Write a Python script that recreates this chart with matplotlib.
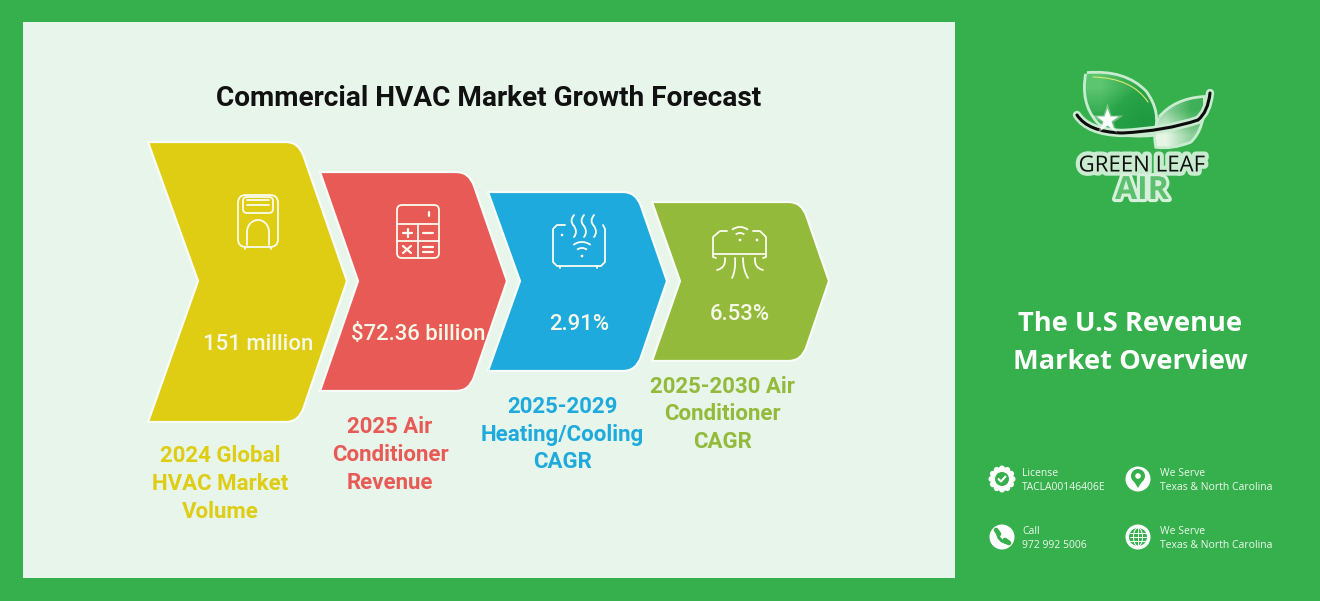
import math
import matplotlib
matplotlib.use('Agg')
import matplotlib.pyplot as plt
import matplotlib.patheffects as pe
import numpy as np
from matplotlib.colors import LinearSegmentedColormap
from matplotlib.patches import Rectangle, PathPatch, FancyBboxPatch, Circle, Arc, Polygon
from matplotlib.path import Path

title = 'Commercial HVAC Market Growth Forecast'
values = ['151 million', '$72.36 billion', '2.91%', '6.53%']
labels = ['2024 Global\nHVAC Market\nVolume', '2025 Air\nConditioner\nRevenue',
          '2025-2029\nHeating/Cooling\nCAGR', '2025-2030 Air\nConditioner\nCAGR']
colors = ['#dfcd14', '#e85a55', '#1eaadc', '#93ba3a']
side_title = 'The U.S Revenue\nMarket Overview'
contact_heads = ['License', 'We Serve', 'Call', 'We Serve']
contact_lines = ['TACLA00146406E', 'Texas & North Carolina', '972 992 5006', 'Texas & North Carolina']

GREEN = '#36b04c'
PANEL = '#e7f5eb'
WHITE = '#ffffff'
ICON = '#fbfbf0'

# layout, in pixels
left = [148, 320, 488, 652]
notch = [198, 358, 520, 680]
tip = [347, 507, 667, 829]
top = [142, 172, 192, 202]
bottom = [422, 391, 371, 361]
mid_y = 281
value_pos = [(258, 345), (418, 335), (579, 325), (740, 315)]
label_pos = [(220, 484), (390, 455), (562, 434.5), (722, 414.5)]
contact_pos = [(1002, 479), (1138, 479), (1002, 537), (1138, 537)]
contact_text_x = [1022, 1160, 1022, 1160]

fig = plt.figure(figsize=(13.2, 6.01), dpi=100, facecolor=GREEN)
ax = fig.add_axes([0, 0, 1, 1])
ax.set_xlim(0, 1320)
ax.set_ylim(601, 0)
ax.axis('off')

ax.add_patch(Rectangle((23, 22), 932, 556, fc=PANEL, ec='none'))
ax.text(489, 99, title, family='Roboto', weight='bold', fontsize=20.2, color='#111111',
        ha='center', va='center')


def chevron(i):
    t, b = top[i], bottom[i]
    shoulder = tip[i] - 0.345 * (b - t) / 2
    r = 13
    dx = 14 * 0.345
    dy = 14
    verts = [(left[i], t), (shoulder - r, t), (shoulder, t), (shoulder + dx, t + dy),
             (tip[i], mid_y), (shoulder + dx, b - dy), (shoulder, b), (shoulder - r, b),
             (left[i], b), (notch[i], mid_y), (left[i], t)]
    codes = [Path.MOVETO, Path.LINETO, Path.CURVE3, Path.CURVE3, Path.LINETO, Path.LINETO,
             Path.CURVE3, Path.CURVE3, Path.LINETO, Path.LINETO, Path.CLOSEPOLY]
    ax.add_patch(PathPatch(Path(verts, codes), fc=colors[i], ec='#f8fcf9', lw=1.6, joinstyle='miter'))


for i in range(4):
    chevron(i)
    ax.text(*value_pos[i], values[i], family='Roboto', weight='medium', fontsize=15.9,
            color='#f6f8e8', ha='center', va='center')
    ax.text(*label_pos[i], labels[i], family='Roboto', weight='bold', fontsize=16,
            color=colors[i], ha='center', va='center', linespacing=1.35)


def outline(x, y, w, h, r=4, lw=1.3):
    ax.add_patch(FancyBboxPatch((x + r, y + r), w - 2 * r, h - 2 * r,
                                boxstyle=f'round,pad={r},rounding_size={r}',
                                fc='none', ec=ICON, lw=lw))


def line(xs, ys, lw=1.3, color=ICON):
    ax.plot(xs, ys, color=color, lw=lw, solid_capstyle='round', solid_joinstyle='round')


def curve(p0, p1, p2, lw=1.3, color=ICON, zorder=2):
    ax.add_patch(PathPatch(Path([p0, p1, p2], [Path.MOVETO, Path.CURVE3, Path.CURVE3]),
                           fc='none', ec=color, lw=lw, capstyle='round', zorder=zorder))


def dot(x, y, r=1.3, color=ICON):
    ax.add_patch(Circle((x, y), r, fc=color, ec='none'))


def wifi(cx, cy, radii):
    for r in radii:
        ax.add_patch(Arc((cx, cy), 2 * r, 2 * r, theta1=232, theta2=308, ec=ICON, lw=1.3))
    dot(cx, cy, 1.4)


# portable unit
outline(238, 195, 40, 52, r=8)
outline(243, 197, 30, 16, r=4)
line([247, 269], [200, 200])
line([247, 269], [205, 205])
line([247, 247], [245, 232])
line([269, 269], [245, 232])
ax.add_patch(Arc((258, 232), 22, 24, theta1=180, theta2=360, ec=ICON, lw=1.3))
line([245, 245], [247, 249])
line([271, 271], [247, 249])

# calculator
outline(397, 205, 42, 53, r=5)
line([397, 439], [224, 224])
line([397, 439], [241, 241])
line([418, 418], [224, 258])
line([429, 429], [212, 216], lw=1.6)
line([403, 412], [233, 233], lw=1.6)
line([407.5, 407.5], [229, 237], lw=1.6)
line([423, 433], [233, 233], lw=1.6)
line([403, 411], [246, 253], lw=1.6)
line([403, 411], [253, 246], lw=1.6)
line([423, 433], [247, 247], lw=1.6)
line([423, 433], [252, 252], lw=1.6)

# heater with wifi
line([565, 557, 553, 553, 557, 601, 605, 605, 603], [225, 225, 229, 262, 266, 266, 262, 229, 225])
line([560, 560], [266, 268])
line([597, 597], [266, 268])
dot(562, 235)
for x0 in (574, 584, 594):
    curve((x0, 215), (x0 - 5, 221), (x0, 226))
    curve((x0, 226), (x0 + 4, 232), (x0, 237))
wifi(582, 256, [8, 14])

# wall unit with drips
line([713, 713, 720, 727], [254, 237, 231, 231])
line([753, 760, 766, 766, 713], [231, 231, 237, 254, 254])
line([713, 713, 716], [254, 257, 258])
line([766, 766, 763], [254, 257, 258])
wifi(740, 240, [7, 13])
dot(757, 240, 1.4)
curve((725, 258), (726, 268), (717, 270))
curve((755, 258), (754, 268), (763, 270))
curve((735, 258), (736, 270), (732, 278))
curve((743, 258), (743, 270), (748, 278))

# right side text
ax.text(1130, 343, side_title, family='Open Sans', weight='bold', fontsize=19.6, color=WHITE,
        ha='center', va='center', linespacing=1.63)

for (cx, cy), tx, head, body in zip(contact_pos, contact_text_x, contact_heads, contact_lines):
    ax.text(tx, cy - 5, head, family='Open Sans', fontsize=7.5, color='#eef8ef', ha='left', va='center')
    ax.text(tx, cy + 9, body, family='Open Sans', fontsize=7.5, color='#eef8ef', ha='left', va='center')
    ax.add_patch(Circle((cx, cy), 12.5 if head != 'License' else 11, fc=WHITE, ec='none'))

# badge
cx, cy = contact_pos[0]
for k in range(12):
    a = k * math.pi / 6
    dot(cx + 10.5 * math.cos(a), cy + 10.5 * math.sin(a), 3, WHITE)
dot(cx, cy, 7, GREEN)
line([cx - 3.5, cx - 1, cx + 3.5], [cy, cy + 2.5, cy - 2.5], lw=1.5, color=WHITE)
# pin
cx, cy = contact_pos[1]
ax.add_patch(Polygon([(cx - 6.2, cy - 1), (cx, cy + 9), (cx + 6.2, cy - 1)], fc=GREEN, ec='none'))
dot(cx, cy - 3, 7, GREEN)
dot(cx, cy - 3, 2.8, WHITE)
# phone
cx, cy = contact_pos[2]
curve((cx - 5, cy - 6), (cx - 4, cy + 5), (cx + 6, cy + 6), lw=2.2, color=GREEN)
line([cx - 6, cx - 3], [cy - 7, cy - 3], lw=3.4, color=GREEN)
line([cx + 3, cx + 7], [cy + 3, cy + 6], lw=3.4, color=GREEN)
# globe
cx, cy = contact_pos[3]
dot(cx, cy, 9, GREEN)
ax.add_patch(Arc((cx, cy), 9, 18, ec=WHITE, lw=0.7))
for off in (-4, 0, 4):
    line([cx - 8, cx + 8], [cy + off, cy + off], lw=0.7, color=WHITE)
line([cx, cx], [cy - 9, cy + 9], lw=0.7, color=WHITE)

# logo
halo = '#c9ecd0'
C3 = Path.CURVE3
big_leaf = Path([(1087, 74), (1125, 71), (1145, 92), (1160, 112), (1153, 134), (1112, 138), (1097, 120), (1082, 102), (1087, 74)],
                [Path.MOVETO, C3, C3, C3, C3, C3, C3, C3, C3])
small_leaf = Path([(1160, 118), (1175, 100), (1203, 98), (1204, 128), (1190, 141), (1172, 148), (1157, 146), (1154, 130), (1160, 118)],
                  [Path.MOVETO, C3, C3, C3, C3, C3, C3, C3, C3])
ax.add_patch(PathPatch(small_leaf, fc='none', ec=halo, lw=4, zorder=3))
ax.add_patch(PathPatch(big_leaf, fc='none', ec=halo, lw=4, zorder=3))
leaf_map = LinearSegmentedColormap.from_list('leaf', ['#5cc570', '#2aa448', '#1f9a40'])
glass_map = LinearSegmentedColormap.from_list('glass', ['#e6f5e4', '#8fd09c', '#3fb058'])
for leaf, cmap, extent, arr in [(big_leaf, leaf_map, (1082, 1160, 138, 71), [[0.0, 0.5], [0.5, 1.0]]),
                                (small_leaf, glass_map, (1154, 1204, 148, 98), [[0.5, 1.0], [0.0, 0.5]])]:
    im = ax.imshow(np.array(arr), cmap=cmap, extent=extent, aspect='auto', interpolation='bilinear', zorder=3.1)
    im.set_clip_path(PathPatch(leaf, transform=ax.transData))
ax.set_xlim(0, 1320)
ax.set_ylim(601, 0)
curve((1093, 77), (1132, 78), (1148, 102), lw=0.8, color='#d9e86e', zorder=3.2)

swoosh = Path([(1077, 115), (1088, 132), (1122, 133), (1165, 131), (1198, 120), (1208, 112), (1210, 93)],
              [Path.MOVETO, C3, C3, C3, C3, C3, C3])
ax.add_patch(PathPatch(swoosh, fc='none', ec=halo, lw=6, capstyle='round', zorder=3.3))
ax.add_patch(PathPatch(swoosh, fc='none', ec='#0c0c0c', lw=2.2, capstyle='round', zorder=3.4))
ax.plot([1107], [120], marker='*', ms=24, color=WHITE, mec='none', alpha=0.35, zorder=3.5)
ax.plot([1107], [120], marker='*', ms=17, color=WHITE, mec='none', zorder=3.6)
ax.text(1141.5, 166, 'GREEN LEAF', family='Open Sans', fontsize=16, color='#111111', ha='center', va='center',
        path_effects=[pe.withStroke(linewidth=6, foreground=halo)])
ax.text(1142, 190.5, 'AIR', family='Open Sans', weight='bold', fontsize=23, color='#5cc06e', ha='center', va='center',
        path_effects=[pe.withStroke(linewidth=4.5, foreground='#d6f0db')])

fig.savefig('out.png', dpi=100, facecolor=GREEN)
